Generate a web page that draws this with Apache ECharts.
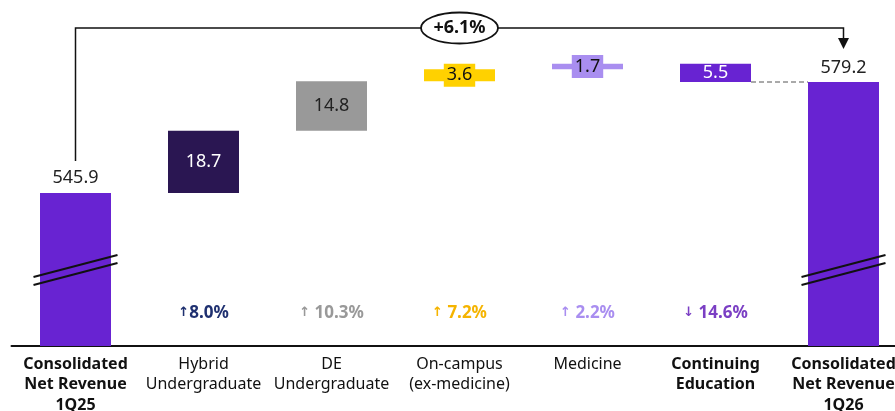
<!DOCTYPE html>
<html>
<head>
<meta charset="utf-8">
<script src="https://cdn.jsdelivr.net/npm/echarts@6/dist/echarts.min.js"></script>
<style>
  html, body { margin: 0; padding: 0; background: #fff; }
  #chart { width: 895px; height: 411px; }
</style>
</head>
<body>
<div id="chart"></div>
<script>
// Net revenue bridge, 1Q25 -> 1Q26 ($M)
const categories = [
  'Consolidated\nNet Revenue\n1Q25',
  'Hybrid\nUndergraduate',
  'DE\nUndergraduate',
  'On-campus\n(ex-medicine)',
  'Medicine',
  'Continuing\nEducation',
  'Consolidated\nNet Revenue\n1Q26'
];
const boldCategories = [true, false, false, false, false, true, true];
// totals at the ends, changes in between
const values = [545.9, 18.7, 14.8, 3.6, 1.7, -5.5, 579.2];
const isTotal = [true, false, false, false, false, false, true];
const percentChanges = [null, 8.0, 10.3, 7.2, 2.2, -14.6, null];
const totalGrowthLabel = '+6.1%';

const barColors = ['#6823d2', '#2a1652', '#999999', '#ffd100', '#a98ef0', '#6823d2', '#6823d2'];
const pctColors = [null, '#1f3070', '#999999', '#f5b400', '#a98ef0', '#7b3fc4', null];

const Y_MIN = 500, Y_MAX = 590;
const PCT_ROW = 509.9;   // value row where the % labels sit
const BREAK_AT = 522.8;  // value row of the axis-break marks

// stacked waterfall: invisible base + visible delta
const baseData = [], deltaData = [];
let running = 0;
values.forEach((v, i) => {
  if (isTotal[i]) {
    baseData.push(Y_MIN);
    deltaData.push(v - Y_MIN);
    running = v;
  } else if (v >= 0) {
    baseData.push(running);
    deltaData.push(v);
    running += v;
  } else {
    running += v;
    baseData.push(running);
    deltaData.push(-v);
  }
});

const labelStyles = [
  { position: 'top', color: '#222', distance: 6 },
  { position: 'inside', color: '#fff' },
  { position: 'inside', color: '#222' },
  { position: 'inside', color: '#111', backgroundColor: '#ffd100', padding: [3, 3, 2, 3] },
  { position: 'inside', color: '#111', backgroundColor: '#a98ef0', padding: [3, 3, 2, 3] },
  { position: 'inside', color: '#fff' },
  { position: 'top', color: '#222', distance: 5 }
];

const chart = echarts.init(document.getElementById('chart'), null, { renderer: 'canvas' });
const FONT = '"Noto Sans", "Open Sans", sans-serif';
const ARROW_FONT = '"DejaVu Sans", sans-serif';

chart.setOption({
  animation: false,
  grid: { left: 11.5, width: 896, top: 46, height: 300, containLabel: false, outerBoundsMode: 'none' },
  xAxis: {
    type: 'category',
    data: categories,
    axisTick: { show: false },
    axisLine: { lineStyle: { color: '#111', width: 2 } },
    axisLabel: {
      interval: 0,
      margin: 8,
      fontFamily: FONT,
      fontSize: 16,
      lineHeight: 20.5,
      color: '#111',
      formatter: (val, idx) => boldCategories[idx]
        ? val.split('\n').map(s => '{b|' + s + '}').join('\n')
        : val,
      rich: { b: { fontWeight: 'bold', fontSize: 16, lineHeight: 20.5, color: '#111', fontFamily: FONT } }
    }
  },
  yAxis: { type: 'value', min: Y_MIN, max: Y_MAX, show: false, splitLine: { show: false } },
  series: [
    {
      type: 'bar', stack: 'wf', barWidth: 71, silent: true,
      itemStyle: { color: 'transparent' },
      data: baseData
    },
    {
      type: 'bar', stack: 'wf', barWidth: 71,
      data: deltaData.map((d, i) => ({
        value: d,
        itemStyle: { color: barColors[i] },
        label: Object.assign({
          show: true,
          fontFamily: FONT,
          fontSize: 18,
          formatter: () => Math.abs(values[i]).toFixed(1)
        }, labelStyles[i])
      }))
    },
    {
      type: 'scatter', symbolSize: 0, silent: true,
      itemStyle: { opacity: 1 },
      data: percentChanges.map((p, i) => p === null ? null : ({
        value: [i, PCT_ROW],
        label: {
          show: true, position: 'inside',
          fontSize: 17, fontWeight: 'bold', fontFamily: FONT, color: pctColors[i],
          formatter: '{a|' + (p >= 0 ? '↑' : '↓') + '}{t|' + (i > 1 ? ' ' : '') + Math.abs(p).toFixed(1) + '%}',
          rich: {
            a: { fontSize: 13, fontWeight: 'bold', color: pctColors[i], fontFamily: ARROW_FONT },
            t: { fontSize: 17, fontWeight: 'bold', color: pctColors[i], fontFamily: FONT }
          }
        }
      }))
    }
  ]
});

// overlay: growth bracket, connector and axis-break marks
function px(i, v) { return chart.convertToPixel({ xAxisIndex: 0, yAxisIndex: 0 }, [i, v]); }
const last = values.length - 1;
const startTop = px(0, values[0]);
const endTop = px(last, values[last]);
const bracketY = 28;
const x0 = startTop[0], x1 = endTop[0];
const midX = (x0 + x1) / 2;
const half = 71 / 2;
const cePt = px(5, values[last]);

const breakMarks = [];
[0, last].forEach(i => {
  const c = px(i, BREAK_AT);
  [0, 8].forEach(off => {
    breakMarks.push({
      type: 'line', z: 100,
      shape: { x1: c[0] - 42, y1: c[1] + 11 + off - 4, x2: c[0] + 42, y2: c[1] - 11 + off - 4 },
      style: { stroke: '#111', lineWidth: 2 }
    });
  });
});

chart.setOption({
  graphic: [
    {
      type: 'polyline', z: 100,
      shape: { points: [[x0, startTop[1] - 32], [x0, bracketY], [x1, bracketY], [x1, endTop[1] - 43]] },
      style: { stroke: '#111', lineWidth: 1.5, fill: null }
    },
    {
      type: 'polygon', z: 100,
      shape: { points: [[x1 - 5.5, endTop[1] - 44], [x1 + 5.5, endTop[1] - 44], [x1, endTop[1] - 33]] },
      style: { fill: '#111' }
    },
    {
      type: 'ellipse', z: 100,
      shape: { cx: midX, cy: bracketY, rx: 38.5, ry: 15.5 },
      style: { fill: '#fff', stroke: '#111', lineWidth: 1.8 }
    },
    {
      type: 'text', z: 101,
      x: midX, y: bracketY,
      style: {
        text: totalGrowthLabel, fontFamily: FONT, fontSize: 18, fontWeight: 'bold',
        fill: '#111', align: 'center', verticalAlign: 'middle'
      }
    },
    {
      type: 'line', z: 100,
      shape: { x1: cePt[0] + half, y1: endTop[1], x2: endTop[0] - half, y2: endTop[1] },
      style: { stroke: '#555', lineWidth: 1, lineDash: [5, 3] }
    }
  ].concat(breakMarks)
});
</script>
</body>
</html>
